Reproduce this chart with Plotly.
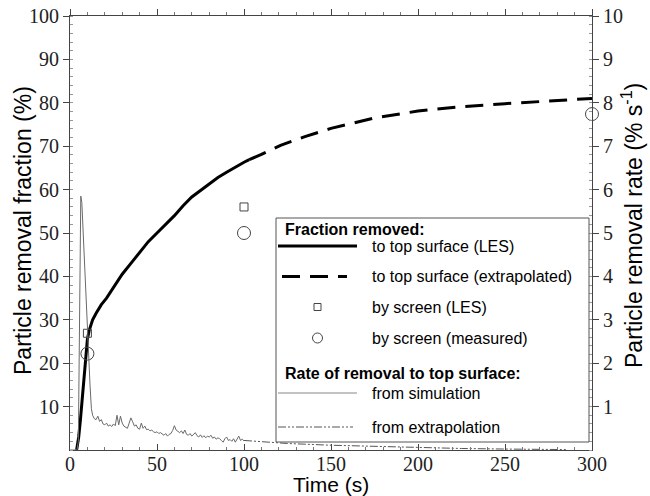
import plotly.graph_objects as go

# ---------------- data ----------------
# Fraction removed to top surface (LES), %
les_t = [3.8, 5, 6, 7, 8, 9, 10, 11, 12, 13, 15, 18, 21, 25, 30, 35, 40, 45, 50, 55,
         60, 65, 70, 75, 80, 85, 90, 95, 100, 103]
les_frac = [0, 3, 7, 12, 17, 22, 25.5, 27.5, 29, 30, 31.5, 33.5, 35, 37.5, 40.5, 43,
            45.5, 48, 50, 52, 54, 56.3, 58.3, 59.8, 61.3, 62.8, 64.0, 65.2, 66.3, 66.9]

# Fraction removed to top surface (extrapolated), %
ext_t = [103, 110, 121, 135, 150, 175, 200, 225, 250, 275, 300]
ext_frac = [66.9, 68.1, 70.2, 72.2, 74.1, 76.5, 78.1, 79.1, 79.8, 80.4, 81.0]

# Removed by screen
screen_les_t = [10, 100]
screen_les = [26.9, 56]
screen_meas_t = [10, 100, 300]
screen_meas = [22.2, 50, 77.4]

# Rate of removal to top surface from simulation, % s^-1
sim_t = [0, 4, 4.8, 5.5, 6.2, 6.8, 7.5, 8.5, 9.5, 10.5, 11.5, 12.3,
         13, 14, 15, 16, 17, 18, 19, 20, 21, 22, 23, 24, 25, 26, 27, 28, 29, 30,
         31, 32, 33, 34, 35, 36, 37, 38, 39, 40, 41, 42, 43, 44, 45, 46, 47, 48, 49, 50,
         51, 52, 53, 54, 55, 56, 57, 58, 59, 60, 61, 62, 63, 64, 65, 66, 67, 68, 69, 70,
         71, 72, 73, 74, 75, 76, 77, 78, 79, 80, 81, 82, 83, 84, 85, 86, 87, 88, 89, 90,
         91, 92, 93, 94, 95, 96, 97, 98, 99, 100]
sim_rate = [0, 0, 0.2, 3.0, 5.85, 5.7, 5.0, 4.2, 3.4, 2.4, 1.5, 0.95,
            0.80, 0.72, 0.70, 0.78, 0.66, 0.70, 0.60, 0.58, 0.62, 0.55, 0.58, 0.54, 0.60, 0.56, 0.80, 0.58, 0.78, 0.62,
            0.55, 0.52, 0.50, 0.62, 0.74, 0.65, 0.55, 0.58, 0.50, 0.48, 0.62, 0.50, 0.55, 0.47, 0.48, 0.44, 0.46, 0.42, 0.40, 0.42,
            0.38, 0.40, 0.36, 0.34, 0.38, 0.32, 0.36, 0.38, 0.45, 0.56, 0.46, 0.42, 0.40, 0.44, 0.38, 0.46, 0.36, 0.34, 0.38, 0.32,
            0.36, 0.40, 0.33, 0.30, 0.35, 0.29, 0.33, 0.28, 0.32, 0.30, 0.34, 0.27, 0.30, 0.25, 0.28, 0.26, 0.22, 0.18, 0.26, 0.30,
            0.22, 0.24, 0.20, 0.26, 0.18, 0.24, 0.32, 0.22, 0.25, 0.21]

# Rate of removal from extrapolation, % s^-1
extr_t = [100, 110, 125, 150, 175, 200, 225, 250, 275, 285]
extr_rate = [0.22, 0.19, 0.15, 0.11, 0.08, 0.055, 0.035, 0.022, 0.013, 0.01]

x_ticks = [0, 50, 100, 150, 200, 250, 300]
y_ticks = [10, 20, 30, 40, 50, 60, 70, 80, 90, 100]
y2_ticks = [1, 2, 3, 4, 5, 6, 7, 8, 9, 10]

# ---------------- figure ----------------
OFF = 0  # page body margin removed by post_script below
W, H = 650 - OFF, 496 - OFF
PLOT_L, PLOT_R, PLOT_T, PLOT_B = 70, 592, 16, 450  # target window pixels
L, R, T, B = PLOT_L - OFF, W - (PLOT_R - OFF), PLOT_T - OFF, H - (PLOT_B - OFF)
SERIF = "Liberation Serif, Times New Roman, serif"
SANS = "Liberation Sans, Arial, sans-serif"
AX = "#444444"


def px(x):
    return (x - PLOT_L) / (PLOT_R - PLOT_L)


def py(y):
    return (PLOT_B - y) / (PLOT_B - PLOT_T)


fig = go.Figure()

fig.add_trace(go.Scatter(x=sim_t, y=sim_rate, yaxis="y2", mode="lines",
                         line=dict(color="#6a6a6a", width=1), name="from simulation"))
fig.add_trace(go.Scatter(x=extr_t, y=extr_rate, yaxis="y2", mode="lines",
                         line=dict(color="#555555", width=1, dash="8px,2px,2px,2px,2px,2px"),
                         name="from extrapolation"))
fig.add_trace(go.Scatter(x=les_t, y=les_frac, mode="lines",
                         line=dict(color="black", width=3), name="to top surface (LES)"))
fig.add_trace(go.Scatter(x=ext_t, y=ext_frac, mode="lines",
                         line=dict(color="black", width=3, dash="18px,10px"),
                         name="to top surface (extrapolated)"))
fig.add_trace(go.Scatter(x=screen_les_t, y=screen_les, mode="markers",
                         marker=dict(symbol="square-open", size=8, color="#444444",
                                     line=dict(width=1)),
                         name="by screen (LES)", cliponaxis=False))
fig.add_trace(go.Scatter(x=screen_meas_t, y=screen_meas, mode="markers",
                         marker=dict(symbol="circle-open", size=13, color="#444444",
                                     line=dict(width=1)),
                         name="by screen (measured)", cliponaxis=False))
# empty trace so that the top (frame) axis is drawn
fig.add_trace(go.Scatter(x=[None], y=[None], xaxis="x2", mode="lines", hoverinfo="skip"))

# ---------------- manual legend ----------------
shapes = []
annotations = []
shapes.append(dict(type="rect", xref="paper", yref="paper",
                   x0=px(276), x1=px(589), y0=py(442), y1=py(218),
                   line=dict(color="#555555", width=1), fillcolor="white", layer="above"))

text_x = px(370)
rows = [
    ("header", "<b>Fraction removed:</b>", 229),
    ("solid", "to top surface (LES)", 246),
    ("dash", "to top surface (extrapolated)", 276.5),
    ("square", "by screen (LES)", 307),
    ("circle", "by screen (measured)", 338),
    ("header", "<b>Rate of removal to top surface:</b>", 373),
    ("thin", "from simulation", 393),
    ("dashdot", "from extrapolation", 427),
]
for kind, txt, yy in rows:
    if kind == "header":
        annotations.append(dict(x=px(283), y=py(yy), xref="paper", yref="paper",
                                text=txt, showarrow=False, xanchor="left", yanchor="middle",
                                font=dict(family=SANS, size=16, color="black")))
        continue
    annotations.append(dict(x=text_x, y=py(yy), xref="paper", yref="paper",
                            text=txt, showarrow=False, xanchor="left", yanchor="middle",
                            font=dict(family=SANS, size=16, color="black")))
    if kind == "solid":
        shapes.append(dict(type="line", xref="paper", yref="paper", x0=px(278), x1=px(357),
                           y0=py(yy), y1=py(yy), line=dict(color="black", width=3), layer="above"))
    elif kind == "dash":
        shapes.append(dict(type="line", xref="paper", yref="paper", x0=px(282), x1=px(347),
                           y0=py(yy), y1=py(yy), line=dict(color="black", width=3, dash="18px,10px"),
                           layer="above"))
    elif kind == "thin":
        shapes.append(dict(type="line", xref="paper", yref="paper", x0=px(278), x1=px(357),
                           y0=py(yy), y1=py(yy), line=dict(color="#888888", width=1), layer="above"))
    elif kind == "dashdot":
        shapes.append(dict(type="line", xref="paper", yref="paper", x0=px(278), x1=px(353),
                           y0=py(yy), y1=py(yy),
                           line=dict(color="#555555", width=1, dash="8px,2px,2px,2px,2px,2px"),
                           layer="above"))
    elif kind == "square":
        shapes.append(dict(type="rect", xref="paper", yref="paper",
                           x0=px(314), x1=px(321), y0=py(yy + 3.5), y1=py(yy - 3.5),
                           line=dict(color="#444444", width=1), fillcolor="white", layer="above"))
    elif kind == "circle":
        shapes.append(dict(type="circle", xref="paper", yref="paper",
                           x0=px(312.5), x1=px(322.5), y0=py(yy + 5), y1=py(yy - 5),
                           line=dict(color="#444444", width=1), fillcolor="white", layer="above"))

# axis titles placed as annotations
annotations.append(dict(x=px(331), y=py(484), xref="paper", yref="paper", text="Time (s)",
                        showarrow=False, xanchor="center", yanchor="middle",
                        font=dict(family=SANS, size=21, color="black")))
annotations.append(dict(x=px(23), y=py(231), xref="paper", yref="paper",
                        text="Particle removal fraction (%)", textangle=-90,
                        showarrow=False, xanchor="center", yanchor="middle",
                        font=dict(family=SANS, size=23, color="black")))
annotations.append(dict(x=px(632), y=py(226), xref="paper", yref="paper",
                        text="Particle removal rate (% s<sup>-1</sup>)", textangle=-90,
                        showarrow=False, xanchor="center", yanchor="middle",
                        font=dict(family=SANS, size=23, color="black")))

axis_common = dict(showline=True, linecolor=AX, linewidth=1.2, showgrid=False, zeroline=False,
                   tickcolor=AX, ticklen=6, tickwidth=1, automargin=False,
                   ticklabeloverflow="allow",
                   tickfont=dict(family=SERIF, size=20, color="#222222"))

fig.update_layout(
    width=W, height=H,
    margin=dict(l=L, r=R, t=T, b=B),
    plot_bgcolor="white", paper_bgcolor="white",
    showlegend=False,
    shapes=shapes, annotations=annotations,
    xaxis=dict(range=[0, 300], tickvals=x_ticks, ticks="inside", ticklabelstandoff=-4,
               minor=dict(dtick=10, ticks="inside", ticklen=3, tickcolor="#777777"),
               **axis_common),
    xaxis2=dict(range=[0, 300], tickvals=x_ticks, ticks="outside", overlaying="x", side="top",
                showticklabels=False,
                minor=dict(dtick=10, ticks="outside", ticklen=3, tickcolor="#777777"),
                **axis_common),
    yaxis=dict(range=[0, 100], tickvals=y_ticks, ticks="outside",
               minor=dict(dtick=2, ticks="inside", ticklen=3, tickcolor="#999999"),
               **axis_common),
    yaxis2=dict(range=[0, 10], tickvals=y2_ticks, ticks="outside", overlaying="y", side="right",
                minor=dict(dtick=0.2, ticks="inside", ticklen=3, tickcolor="#999999"),
                **axis_common),
)

fig.write_html("out.html", config={"displayModeBar": False},
               post_script="document.body.style.margin='0';")
